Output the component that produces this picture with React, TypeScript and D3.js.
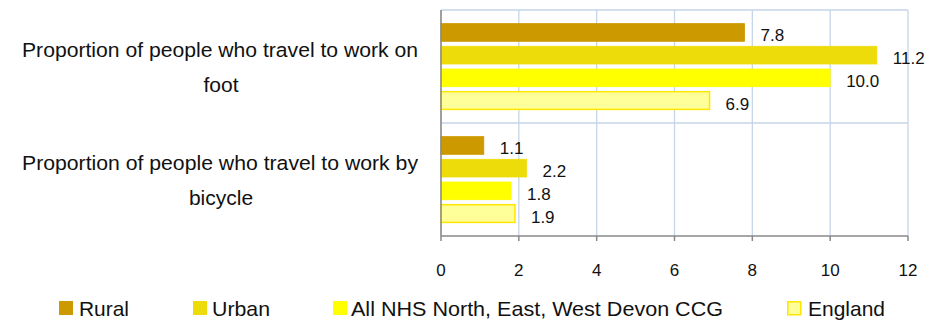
import React from "react";
import * as d3 from "d3";

const categories = [
  ["Proportion of people who travel to work on", "foot"],
  ["Proportion of people who travel to work by", "bicycle"],
];
const seriesNames = ["Rural", "Urban", "All NHS North, East,  West Devon CCG", "England"];
const rural = [7.8, 1.1];
const urban = [11.2, 2.2];
const allCcg = [10.0, 1.8];
const england = [6.9, 1.9];
const xTicks = [0, 2, 4, 6, 8, 10, 12];

const fills = ["#CC9900", "#EEDC0A", "#FFFF00", "#FFFF99"];
const strokes = ["#CC9900", "#EEDC0A", "#FFFF00", "#FFE600"];

export default function App() {
  const W = 949, H = 320;
  const left = 441, right = 908, top = 10, bottom = 236;
  const x = d3.scaleLinear().domain([0, 12]).range([left, right]);
  const y0 = d3.scaleBand().domain(["0", "1"]).range([top, bottom]);
  const y1 = d3.scaleBand().domain(["0", "1", "2", "3"]).range([0, y0.bandwidth()]).paddingInner(0.22).paddingOuter(0.6);
  const series = [rural, urban, allCcg, england];
  const font = "Liberation Sans, Arial, sans-serif";
  const legendX = [59, 193, 333, 787];
  const legendTextX = [79, 212, 351, 808];
  const legendLen = [50, 58, 372, 77];

  return (
    <svg width={W} height={H} style={{ display: "block", position: "absolute", left: 0, top: 0 }} fontFamily={font}>
      <rect width={W} height={H} fill="#fff" />
      {xTicks.map((t) => (
        <line key={"g" + t} x1={x(t)} x2={x(t)} y1={top} y2={bottom} stroke="#C6D5E8" strokeWidth={1.3} />
      ))}
      {[top, top + y0.bandwidth()].map((yy, i) => (
        <line key={"h" + i} x1={left} x2={right} y1={yy} y2={yy} stroke="#C6D5E8" strokeWidth={1.3} />
      ))}
      {series.map((s, si) =>
        s.map((v, ci) => {
          const yy = (y0(String(ci)) as number) + (y1(String(si)) as number);
          const h = y1.bandwidth();
          return (
            <g key={si + "-" + ci}>
              <rect x={x(0)} y={yy} width={x(v) - x(0)} height={h} fill={fills[si]} stroke={strokes[si]} strokeWidth={si === 3 ? 1.5 : 0.8} />
              <text x={x(v) + 16} y={yy + h / 2 + 9} fontSize={17} fill="#111">
                {v.toFixed(1)}
              </text>
            </g>
          );
        })
      )}
      <line x1={left} x2={left} y1={top} y2={bottom} stroke="#888" strokeWidth={1.5} />
      <line x1={left} x2={right} y1={bottom} y2={bottom} stroke="#888" strokeWidth={1.5} />
      {xTicks.map((t) => (
        <g key={"t" + t}>
          <line x1={x(t)} x2={x(t)} y1={bottom} y2={bottom + 5} stroke="#888" strokeWidth={1.5} />
          <text x={x(t)} y={276} fontSize={17} textAnchor="middle" fill="#111">
            {t}
          </text>
        </g>
      ))}
      {categories.map((lines, ci) => {
        const c = (y0(String(ci)) as number);
        return (
          <g key={"c" + ci}>
            <text x={220} y={c + 47} fontSize={20.5} textAnchor="middle" fill="#111" textLength={396} lengthAdjust="spacingAndGlyphs">
              {lines[0]}
            </text>
            <text x={221} y={c + 82} fontSize={21} textAnchor="middle" fill="#111">
              {lines[1]}
            </text>
          </g>
        );
      })}
      {seriesNames.map((n, i) => (
        <g key={"l" + i}>
          <rect x={legendX[i] + (i === 3 ? 0.75 : 0)} y={301 + (i === 3 ? 0.75 : 0)} width={i === 3 ? 13 : 14} height={i === 3 ? 13 : 14} fill={fills[i]} stroke={i === 3 ? strokes[3] : "none"} strokeWidth={1.5} />
          <text x={legendTextX[i]} y={316} fontSize={21} fill="#111" textLength={legendLen[i]} lengthAdjust="spacingAndGlyphs">
            {n}
          </text>
        </g>
      ))}
    </svg>
  );
}
